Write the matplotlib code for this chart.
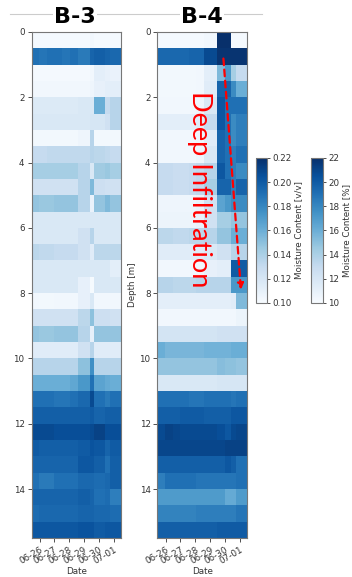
import numpy as np
import pandas as pd
import matplotlib
matplotlib.use("Agg")
import matplotlib.pyplot as plt
import matplotlib.dates as mdates
from matplotlib import cm, colors

# measurement interval edges (time) and depth edges, 0.5 m sensor spacing
b3_edges = ['2021-06-25 11:00', '2021-06-25 23:00', '2021-06-26 12:00', '2021-06-27 00:00',
            '2021-06-27 13:00', '2021-06-28 01:00', '2021-06-28 14:00', '2021-06-29 10:00',
            '2021-06-29 17:00', '2021-06-30 10:00', '2021-06-30 19:00', '2021-07-01 12:00']
b4_edges = ['2021-06-25 11:00', '2021-06-25 23:00', '2021-06-26 12:00', '2021-06-27 00:00',
            '2021-06-27 13:00', '2021-06-28 01:00', '2021-06-28 14:00', '2021-06-29 11:00',
            '2021-06-29 23:00', '2021-06-30 09:00', '2021-06-30 18:00', '2021-07-01 11:00']
depth_edges = np.arange(0, 16, 0.5)
date_ticks = ['2021-06-26', '2021-06-27', '2021-06-28', '2021-06-29', '2021-06-30', '2021-07-01']

# volumetric moisture content [v/v], one row per 0.5 m layer
b3_moisture = [
    [0.102, 0.102, 0.102, 0.102, 0.102, 0.102, 0.102, 0.104, 0.102, 0.102, 0.102],
    [0.190, 0.188, 0.190, 0.190, 0.188, 0.190, 0.186, 0.196, 0.198, 0.196, 0.194],
    [0.102, 0.102, 0.102, 0.102, 0.102, 0.102, 0.102, 0.104, 0.112, 0.110, 0.108],
    [0.104, 0.104, 0.104, 0.104, 0.104, 0.104, 0.104, 0.106, 0.110, 0.112, 0.112],
    [0.116, 0.116, 0.116, 0.116, 0.116, 0.116, 0.118, 0.118, 0.160, 0.130, 0.136],
    [0.118, 0.118, 0.118, 0.118, 0.118, 0.118, 0.118, 0.120, 0.120, 0.124, 0.136],
    [0.103, 0.103, 0.103, 0.103, 0.103, 0.103, 0.106, 0.136, 0.103, 0.103, 0.103],
    [0.130, 0.130, 0.132, 0.132, 0.132, 0.132, 0.132, 0.136, 0.134, 0.132, 0.130],
    [0.142, 0.142, 0.142, 0.142, 0.142, 0.142, 0.136, 0.118, 0.144, 0.146, 0.142],
    [0.124, 0.124, 0.124, 0.124, 0.124, 0.124, 0.136, 0.154, 0.126, 0.124, 0.124],
    [0.148, 0.146, 0.146, 0.148, 0.148, 0.148, 0.136, 0.108, 0.148, 0.154, 0.148],
    [0.118, 0.118, 0.118, 0.118, 0.118, 0.118, 0.118, 0.118, 0.118, 0.118, 0.118],
    [0.118, 0.118, 0.118, 0.118, 0.118, 0.118, 0.124, 0.136, 0.118, 0.118, 0.118],
    [0.134, 0.132, 0.132, 0.130, 0.130, 0.130, 0.124, 0.114, 0.134, 0.134, 0.134],
    [0.118, 0.118, 0.118, 0.118, 0.118, 0.118, 0.118, 0.118, 0.118, 0.118, 0.112],
    [0.118, 0.118, 0.118, 0.118, 0.118, 0.118, 0.110, 0.101, 0.118, 0.118, 0.118],
    [0.104, 0.103, 0.103, 0.104, 0.104, 0.104, 0.110, 0.118, 0.104, 0.104, 0.104],
    [0.124, 0.124, 0.124, 0.124, 0.124, 0.124, 0.134, 0.150, 0.126, 0.126, 0.124],
    [0.148, 0.146, 0.146, 0.148, 0.148, 0.148, 0.136, 0.110, 0.148, 0.148, 0.148],
    [0.114, 0.114, 0.114, 0.114, 0.114, 0.114, 0.124, 0.136, 0.114, 0.114, 0.114],
    [0.136, 0.136, 0.136, 0.136, 0.136, 0.136, 0.150, 0.176, 0.136, 0.136, 0.136],
    [0.160, 0.160, 0.160, 0.160, 0.160, 0.164, 0.172, 0.190, 0.166, 0.162, 0.160],
    [0.190, 0.190, 0.190, 0.188, 0.188, 0.190, 0.194, 0.208, 0.190, 0.186, 0.190],
    [0.198, 0.198, 0.198, 0.198, 0.198, 0.198, 0.198, 0.200, 0.196, 0.198, 0.198],
    [0.208, 0.208, 0.208, 0.206, 0.206, 0.206, 0.206, 0.208, 0.212, 0.206, 0.206],
    [0.200, 0.198, 0.198, 0.198, 0.198, 0.198, 0.200, 0.204, 0.202, 0.196, 0.200],
    [0.196, 0.196, 0.196, 0.196, 0.196, 0.196, 0.202, 0.202, 0.198, 0.190, 0.198],
    [0.190, 0.186, 0.186, 0.190, 0.190, 0.190, 0.194, 0.194, 0.192, 0.194, 0.198],
    [0.196, 0.196, 0.196, 0.196, 0.196, 0.196, 0.198, 0.196, 0.190, 0.192, 0.184],
    [0.192, 0.194, 0.194, 0.194, 0.194, 0.194, 0.196, 0.196, 0.194, 0.194, 0.192],
    [0.202, 0.202, 0.202, 0.202, 0.202, 0.202, 0.204, 0.204, 0.200, 0.202, 0.202],
]

b4_moisture = [
    [0.102, 0.102, 0.102, 0.102, 0.102, 0.102, 0.104, 0.220, 0.220, 0.102, 0.102],
    [0.194, 0.194, 0.194, 0.194, 0.196, 0.196, 0.208, 0.218, 0.218, 0.218, 0.218],
    [0.103, 0.103, 0.103, 0.103, 0.103, 0.104, 0.112, 0.154, 0.172, 0.142, 0.130],
    [0.103, 0.103, 0.103, 0.103, 0.103, 0.104, 0.114, 0.196, 0.196, 0.178, 0.160],
    [0.104, 0.104, 0.104, 0.104, 0.104, 0.106, 0.118, 0.202, 0.190, 0.190, 0.190],
    [0.112, 0.112, 0.112, 0.112, 0.112, 0.114, 0.130, 0.202, 0.190, 0.178, 0.184],
    [0.104, 0.104, 0.104, 0.104, 0.104, 0.106, 0.114, 0.196, 0.190, 0.178, 0.184],
    [0.104, 0.104, 0.104, 0.104, 0.104, 0.106, 0.118, 0.196, 0.190, 0.184, 0.190],
    [0.130, 0.130, 0.128, 0.128, 0.130, 0.132, 0.136, 0.202, 0.190, 0.184, 0.178],
    [0.130, 0.130, 0.128, 0.128, 0.130, 0.132, 0.142, 0.196, 0.196, 0.184, 0.196],
    [0.106, 0.106, 0.106, 0.106, 0.106, 0.108, 0.124, 0.166, 0.172, 0.178, 0.178],
    [0.107, 0.107, 0.107, 0.107, 0.107, 0.108, 0.124, 0.142, 0.142, 0.148, 0.148],
    [0.134, 0.134, 0.132, 0.132, 0.134, 0.134, 0.136, 0.148, 0.148, 0.160, 0.160],
    [0.114, 0.114, 0.114, 0.114, 0.114, 0.114, 0.118, 0.124, 0.124, 0.136, 0.136],
    [0.104, 0.104, 0.104, 0.104, 0.104, 0.104, 0.110, 0.112, 0.112, 0.200, 0.200],
    [0.136, 0.136, 0.134, 0.134, 0.134, 0.136, 0.136, 0.136, 0.136, 0.172, 0.172],
    [0.112, 0.112, 0.112, 0.112, 0.112, 0.112, 0.112, 0.112, 0.112, 0.114, 0.154],
    [0.104, 0.104, 0.104, 0.104, 0.104, 0.104, 0.104, 0.104, 0.104, 0.104, 0.107],
    [0.122, 0.122, 0.122, 0.122, 0.122, 0.122, 0.122, 0.124, 0.124, 0.124, 0.124],
    [0.160, 0.156, 0.156, 0.156, 0.156, 0.156, 0.158, 0.158, 0.158, 0.160, 0.160],
    [0.148, 0.148, 0.148, 0.148, 0.148, 0.148, 0.148, 0.152, 0.150, 0.150, 0.148],
    [0.118, 0.118, 0.118, 0.118, 0.118, 0.118, 0.118, 0.120, 0.120, 0.120, 0.120],
    [0.190, 0.190, 0.190, 0.190, 0.188, 0.188, 0.190, 0.190, 0.190, 0.188, 0.190],
    [0.198, 0.198, 0.198, 0.200, 0.200, 0.200, 0.198, 0.198, 0.198, 0.202, 0.202],
    [0.208, 0.212, 0.210, 0.208, 0.208, 0.208, 0.208, 0.206, 0.202, 0.208, 0.210],
    [0.210, 0.210, 0.210, 0.210, 0.210, 0.210, 0.210, 0.210, 0.212, 0.212, 0.212],
    [0.198, 0.198, 0.198, 0.198, 0.198, 0.198, 0.198, 0.198, 0.202, 0.198, 0.190],
    [0.184, 0.190, 0.190, 0.190, 0.190, 0.188, 0.188, 0.188, 0.188, 0.188, 0.190],
    [0.170, 0.170, 0.170, 0.170, 0.170, 0.170, 0.170, 0.170, 0.162, 0.162, 0.170],
    [0.182, 0.182, 0.182, 0.182, 0.182, 0.184, 0.184, 0.184, 0.184, 0.184, 0.188],
    [0.198, 0.198, 0.198, 0.198, 0.198, 0.198, 0.198, 0.200, 0.200, 0.200, 0.200],
]

vmin, vmax = 0.10, 0.22
txt = '#333333'
plt.rcParams['font.size'] = 6
plt.rcParams['text.color'] = txt
plt.rcParams['axes.labelcolor'] = txt
plt.rcParams['xtick.color'] = txt
plt.rcParams['ytick.color'] = txt

fig = plt.figure(figsize=(3.52, 5.77), dpi=100)
ax3 = fig.add_axes([0.0895, 0.0676, 0.254, 0.877])
ax4 = fig.add_axes([0.4474, 0.0676, 0.254, 0.877])

panels = [(ax3, b3_edges, b3_moisture), (ax4, b4_edges, b4_moisture)]
for ax, edges, vals in panels:
    x = mdates.date2num(pd.to_datetime(edges))
    ax.pcolormesh(x, depth_edges, np.array(vals), cmap='Blues', vmin=vmin, vmax=vmax)
    ax.set_ylim(depth_edges[-1], 0)
    ax.set_xlim(x[0], x[-1])
    ax.set_yticks([0, 2, 4, 6, 8, 10, 12, 14])
    ax.set_xticks(mdates.date2num(pd.to_datetime(date_ticks)))
    ax.xaxis.set_major_formatter(mdates.DateFormatter('%m-%d'))
    plt.setp(ax.get_xticklabels(), rotation=30, ha='right', rotation_mode='anchor')
    ax.tick_params(length=3, width=0.6, pad=2, labelsize=6.3)
    ax.set_xlabel('Date', fontsize=6.3, labelpad=1)
    for s in ax.spines.values():
        s.set_color('#777777')
        s.set_linewidth(0.8)

ax4.set_ylabel('Depth [m]', fontsize=6.3, labelpad=2)

# two colour bars: volumetric and percent
cax1 = fig.add_axes([0.727, 0.4749, 0.031, 0.2513])
cax2 = fig.add_axes([0.8835, 0.4749, 0.033, 0.2513])
sm1 = cm.ScalarMappable(norm=colors.Normalize(vmin, vmax), cmap='Blues')
sm2 = cm.ScalarMappable(norm=colors.Normalize(vmin * 100, vmax * 100), cmap='Blues')
cb1 = fig.colorbar(sm1, cax=cax1, ticks=np.arange(0.10, 0.221, 0.02))
cb2 = fig.colorbar(sm2, cax=cax2, ticks=np.arange(10, 23, 2))
cb1.ax.yaxis.set_major_formatter(matplotlib.ticker.FormatStrFormatter('%.2f'))
cb1.set_label('Moisture Content [v/v]', fontsize=6.3, labelpad=2)
cb2.set_label('Moisture Content [%]', fontsize=6.3, labelpad=2)
for cb in (cb1, cb2):
    cb.outline.set_edgecolor('#777777')
    cb.outline.set_linewidth(0.8)
    cb.ax.tick_params(length=2, width=0.6, pad=2, labelsize=6.3)

# header line and well names
fig.add_artist(plt.Line2D([10 / 352, 262 / 352], [1 - 14 / 577, 1 - 14 / 577],
                          color='#cccccc', lw=0.8))
for name, xc in [('B-3', 75 / 352), ('B-4', 202 / 352)]:
    fig.text(xc, 1 - 17 / 577, name, ha='center', va='center', fontsize=16,
             fontweight='bold', family='DejaVu Sans', color='black',
             bbox=dict(facecolor='white', edgecolor='none', pad=1))

# infiltration front annotation
ax4.text(0.47, 0.69, 'Deep Infiltration', transform=ax4.transAxes, rotation=-90,
         ha='center', va='center', fontsize=19.5, color='red', family='Lato')
ax4.annotate('', xy=(0.936, 0.485), xytext=(0.735, 0.953), xycoords='axes fraction',
             arrowprops=dict(arrowstyle='-|>', color='red', lw=1.6, linestyle=(0, (3, 2)),
                             mutation_scale=9))

fig.savefig('out.png', dpi=100)
